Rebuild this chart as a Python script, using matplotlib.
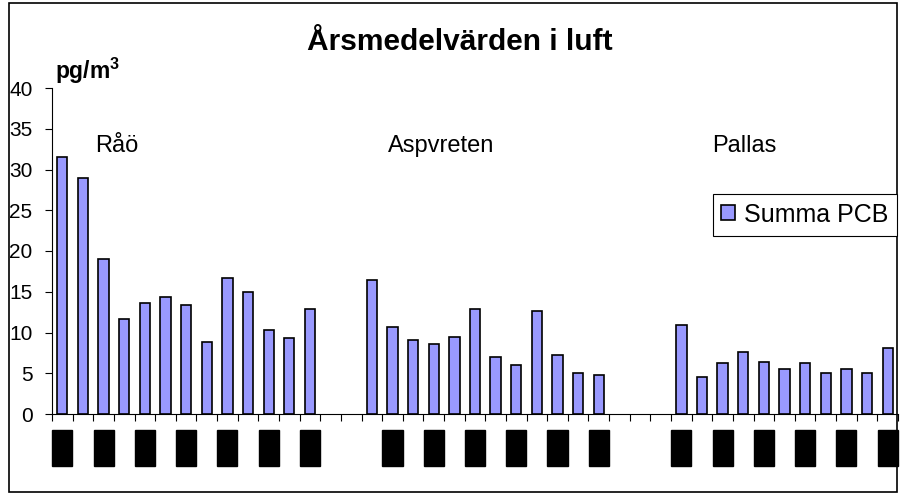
import numpy as np
import matplotlib.pyplot as plt
from matplotlib.patches import Rectangle

plt.rcParams['font.family'] = ['Liberation Sans', 'DejaVu Sans']
plt.rcParams['mathtext.fontset'] = 'custom'
plt.rcParams['mathtext.rm'] = 'Liberation Sans:bold'
plt.rcParams['mathtext.default'] = 'rm'

# yearly means, pg/m3
raao_years = list(range(1994, 2007))
raao = [31.5, 28.9, 19.0, 11.7, 13.6, 14.3, 13.4, 8.8, 16.7, 15.0, 10.3, 9.3, 12.9]
asp_years = list(range(1995, 2007))
asp = [16.5, 10.7, 9.1, 8.6, 9.5, 12.9, 7.0, 6.0, 12.6, 7.2, 5.0, 4.8]
pallas_years = list(range(1996, 2007))
pallas = [10.9, 4.5, 6.2, 7.6, 6.4, 5.5, 6.2, 5.0, 5.5, 5.0, 8.1]

sites = ["Råö", "Aspvreten", "Pallas"]
site_years = [raao_years, asp_years, pallas_years]
site_values = [raao, asp, pallas]
first_year = 1994
block = 14  # 13 years + one empty slot between sites

fig = plt.figure(figsize=(9.01, 4.99), dpi=100)
ax = fig.add_axes([52/901, 85/499, 846/901, 326/499])

xs, vals, lab_pos, lab_txt = [], [], [], []
for i in range(len(sites)):
    for yr, v in zip(site_years[i], site_values[i]):
        p = i * block + (yr - first_year)
        xs.append(p)
        vals.append(v)
        if (yr - first_year) % 2 == 0:
            lab_pos.append(p)
            lab_txt.append(str(yr))

ax.bar(xs, vals, width=0.5, color="#9999FF", edgecolor="black", linewidth=1.2,
       label="Summa PCB", zorder=3)

nslots = 3 * block - 1
ax.set_xlim(-0.5, nslots - 0.5)
ax.set_ylim(0, 40)
ax.set_yticks(np.arange(0, 41, 5))
ax.tick_params(axis="y", labelsize=15, length=5, width=0.8, pad=9)

ax.set_xticks(np.arange(-0.5, nslots, 1), minor=True)
ax.set_xticks(lab_pos)
ax.set_xticklabels(lab_txt, rotation=90, fontsize=8.9, color="black")
ax.tick_params(axis="x", which="major", length=0, pad=14.5)
ax.tick_params(axis="x", which="minor", length=5, width=0.8)
for t in ax.get_xticklabels():
    t.set_bbox(dict(boxstyle="square,pad=0.33", facecolor="black", edgecolor="black"))

ax.spines["top"].set_visible(False)
ax.spines["right"].set_visible(False)
ax.spines["left"].set_linewidth(0.8)
ax.spines["bottom"].set_linewidth(0.8)

label_x = [1.6, 15.8, 31.5]
for name, lx in zip(sites, label_x):
    ax.text(lx, 32.1, name, fontsize=17, va="baseline", ha="left")

fig.text(460/901, 1 - 50/499, "Årsmedelvärden i luft", fontsize=21.5,
         fontweight="bold", ha="center", va="baseline")
fig.text(55/901, 1 - 79/499, "pg/m$^{3}$", fontsize=16.5, fontweight="bold",
         ha="left", va="baseline")

leg = fig.legend(loc="upper right", bbox_to_anchor=(897/901, 1 - 194/499),
                 borderaxespad=0, fontsize=18, fancybox=False, framealpha=1,
                 edgecolor="black", handlelength=0.55, handleheight=0.55,
                 handletextpad=0.35, borderpad=0.35)
leg.get_frame().set_linewidth(0.8)

fig.patches.append(Rectangle((9/901, 7/499), 888/901, 489/499, transform=fig.transFigure,
                             fill=False, edgecolor="black", linewidth=1.2))

fig.savefig("out.png", dpi=100)
